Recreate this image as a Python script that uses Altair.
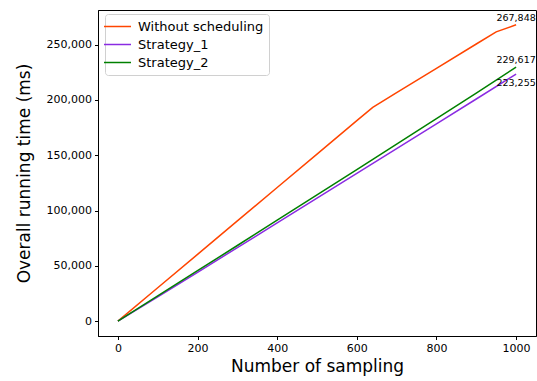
import altair as alt
import pandas as pd

x_without = [0, 100, 200, 300, 400, 500, 600, 640, 700, 800, 900, 950, 1000]
y_without = [0, 30200, 60400, 90600, 120800, 151000, 181200, 193300, 206500, 228500, 250500, 261500, 267848]

x_strat = [0, 100, 200, 300, 400, 500, 600, 700, 800, 900, 1000]
y_strategy1 = [0, 22000, 44200, 66500, 88800, 111200, 133500, 156000, 178300, 200800, 223255]
y_strategy2 = [0, 22800, 45600, 68400, 91300, 114200, 137000, 160000, 183000, 206200, 229617]

series_names = ["Without scheduling", "Strategy_1", "Strategy_2"]
series_colors = ["#ff4500", "#8a2be2", "#008000"]

rows = []
for x, y in zip(x_without, y_without):
    rows.append({"x": x, "y": y, "series": series_names[0]})
for x, y in zip(x_strat, y_strategy1):
    rows.append({"x": x, "y": y, "series": series_names[1]})
for x, y in zip(x_strat, y_strategy2):
    rows.append({"x": x, "y": y, "series": series_names[2]})
df = pd.DataFrame(rows)

end_df = pd.DataFrame({
    "x": [x_without[-1], x_strat[-1], x_strat[-1]],
    "y": [y_without[-1], y_strategy2[-1], y_strategy1[-1]],
    "label": [f"{y_without[-1]:,}", f"{y_strategy2[-1]:,}", f"{y_strategy1[-1]:,}"],
})

FONT = "DejaVu Sans"

xscale = alt.Scale(domain=[-50, 1050], nice=False, zero=False)
yscale = alt.Scale(domain=[-13392, 281240], nice=False, zero=False)

lines = alt.Chart(df).mark_line(strokeWidth=1.5).encode(
    x=alt.X("x:Q", scale=xscale, title="Number of sampling",
            axis=alt.Axis(values=[0, 200, 400, 600, 800, 1000], format="d")),
    y=alt.Y("y:Q", scale=yscale, title="Overall running time (ms)",
            axis=alt.Axis(values=[0, 50000, 100000, 150000, 200000, 250000], format=",d")),
    color=alt.Color("series:N",
                    scale=alt.Scale(domain=series_names, range=series_colors),
                    sort=series_names,
                    legend=alt.Legend(title=None, orient="none", legendX=7, legendY=4,
                                      symbolType="M-2,0H2", symbolSize=182,
                                      symbolStrokeWidth=1.5, labelFontSize=13,
                                      labelFont=FONT, labelColor="#000000",
                                      labelOffset=13, rowPadding=3,
                                      padding=5, fillColor="white",
                                      strokeColor="#d0d0d0", cornerRadius=3)),
    order=alt.value(0),
)

label_top = alt.Chart(end_df.iloc[[0, 1]]).mark_text(
    fontSize=9.5, font=FONT, baseline="bottom", align="center", dy=-2, color="black"
).encode(x=alt.X("x:Q", scale=xscale), y=alt.Y("y:Q", scale=yscale), text="label:N")

label_bot = alt.Chart(end_df.iloc[[2]]).mark_text(
    fontSize=9.5, font=FONT, baseline="top", align="center", dy=4, color="black"
).encode(x=alt.X("x:Q", scale=xscale), y=alt.Y("y:Q", scale=yscale), text="label:N")

chart = alt.layer(lines, label_top, label_bot).properties(
    width=438, height=326,
    autosize=alt.AutoSizeParams(type="none"),
    padding={"left": 98, "top": 10, "right": 1, "bottom": 45},
).configure_view(stroke="black", strokeWidth=1).configure_axis(
    grid=False, domainColor="black", tickColor="black", tickSize=3.5,
    labelFont=FONT, labelFontSize=11, labelColor="black", labelPadding=3,
    titleFont=FONT, titleFontSize=17, titleFontWeight="normal", titleColor="black",
).configure_axisX(titlePadding=5).configure_axisY(titlePadding=13)

chart.save("out.html", embed_options={"renderer": "svg", "actions": False})
